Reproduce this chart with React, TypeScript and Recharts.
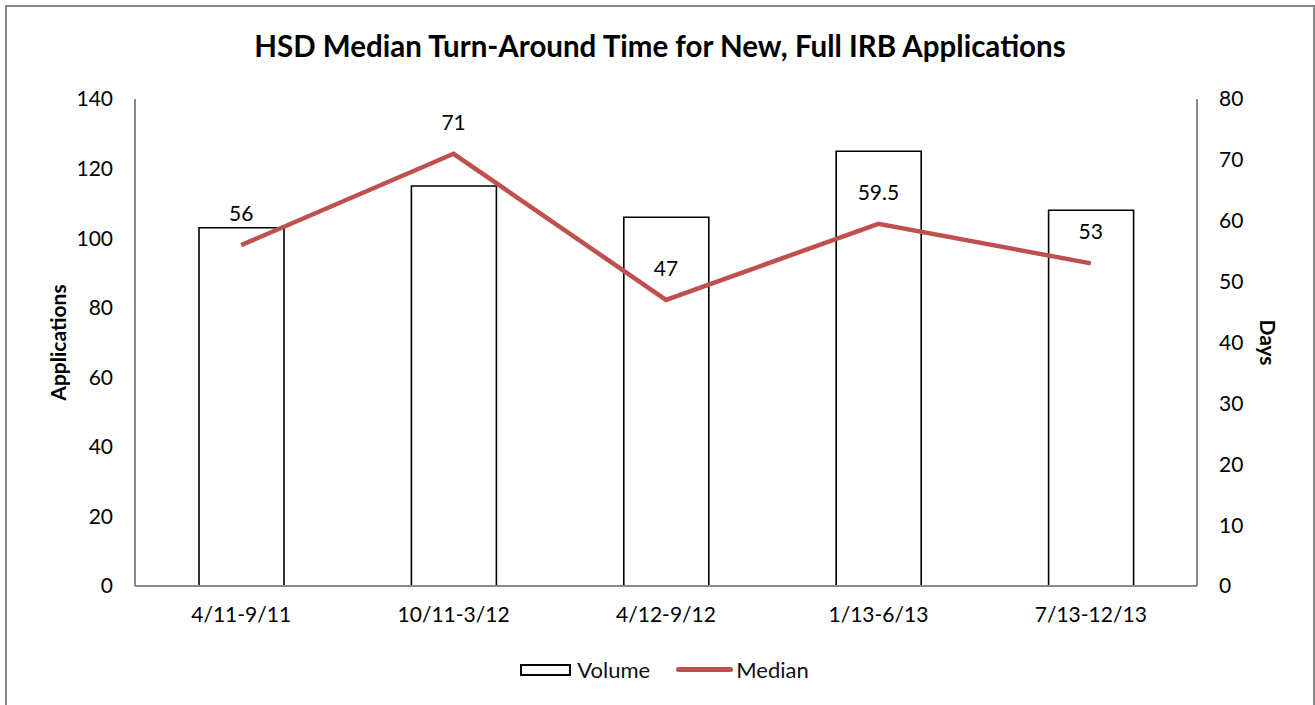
import React from 'react';
import { ComposedChart, Bar, Line, XAxis, YAxis, Legend, LabelList } from 'recharts';

const periods = ['4/11-9/11', '10/11-3/12', '4/12-9/12', '1/13-6/13', '7/13-12/13'];
const volume = [103, 115, 106, 125, 108];
const median = [56, 71, 47, 59.5, 53];
const appTicks = [0, 20, 40, 60, 80, 100, 120, 140];
const dayTicks = [0, 10, 20, 30, 40, 50, 60, 70, 80];

const data = periods.map((p, i) => ({ period: p, volume: volume[i], median: median[i] }));

const FONT = 'Lato, "Open Sans", sans-serif';
const AXIS_GRAY = '#898989';
const RED = '#c0504d';

const tickStyle = { fill: '#000', fontSize: 21, fontFamily: FONT };

const LegendContent = () => (
  <div style={{ display: 'flex', justifyContent: 'center', alignItems: 'center', fontFamily: FONT, fontSize: 22, color: '#111', paddingLeft: 14 }}>
    <span style={{ display: 'inline-block', width: 51, height: 12, border: '2px solid #000', boxSizing: 'border-box', marginRight: 6 }} />
    <span style={{ marginRight: 26 }}>Volume</span>
    <span style={{ display: 'inline-block', width: 57, height: 5, borderRadius: 3, background: RED, marginRight: 3 }} />
    <span>Median</span>
  </div>
);

const App: React.FC = () => {
  return (
    <div style={{ position: 'absolute', left: 0, top: 0, width: 1315, height: 705, background: '#fff' }}>
      <div
        style={{
          position: 'absolute', left: 5, top: 5, width: 1310, height: 710,
          border: '2px solid #868686', boxSizing: 'border-box'
        }}
      />
      <div
        style={{
          position: 'absolute', left: 0, top: 28, width: 1320, textAlign: 'center',
          fontFamily: FONT, fontWeight: 'bold', fontSize: 29.5, color: '#000'
        }}
      >
        HSD Median Turn-Around Time for New, Full IRB Applications
      </div>
      <div style={{ position: 'absolute', left: 0, top: 0 }}>
        <ComposedChart width={1315} height={705} data={data} margin={{ top: 99, right: 30, bottom: 30, left: 30 }}>
          <XAxis
            dataKey="period"
            stroke={AXIS_GRAY}
            strokeWidth={2}
            tickLine={false}
            tickSize={0}
            tickMargin={21}
            tick={tickStyle}
            height={62}
          />
          <YAxis
            yAxisId="left"
            domain={[0, 140]}
            ticks={appTicks}
            stroke={AXIS_GRAY}
            strokeWidth={2}
            tickLine={false}
            tickSize={0}
            tickMargin={22}
            tick={tickStyle}
            width={105}
            label={(props: any) => {
              const vb = props.viewBox;
              const x = vb.x + 27;
              const y = vb.y + vb.height / 2;
              return (
                <text x={x} y={y} transform={`rotate(-90 ${x} ${y})`} textAnchor="middle" dominantBaseline="central"
                  style={{ fontFamily: FONT, fontWeight: 'bold', fontSize: 21, fill: '#000' }}>
                  Applications
                </text>
              );
            }}
          />
          <YAxis
            yAxisId="right"
            orientation="right"
            domain={[0, 80]}
            ticks={dayTicks}
            stroke={AXIS_GRAY}
            strokeWidth={2}
            tickLine={false}
            tickSize={0}
            tickMargin={22}
            tick={tickStyle}
            width={88}
            label={(props: any) => {
              const vb = props.viewBox;
              const x = vb.x + 71;
              const y = vb.y + vb.height / 2;
              return (
                <text x={x} y={y} transform={`rotate(90 ${x} ${y})`} textAnchor="middle" dominantBaseline="central"
                  style={{ fontFamily: FONT, fontWeight: 'bold', fontSize: 21, fill: '#000' }}>
                  Days
                </text>
              );
            }}
          />
          <Legend verticalAlign="bottom" content={<LegendContent />} wrapperStyle={{ bottom: 22 }} />
          <Bar yAxisId="left" dataKey="volume" name="Volume" fill="#fff" stroke="#000" strokeWidth={1.6} barSize={85} isAnimationActive={false} />
          <Line
            yAxisId="right"
            dataKey="median"
            name="Median"
            type="linear"
            stroke={RED}
            strokeWidth={4.5}
            dot={false}
            activeDot={false}
            isAnimationActive={false}
          >
            <LabelList dataKey="median" position="top" offset={24} style={{ fill: '#000', fontSize: 21, fontFamily: FONT }} />
          </Line>
        </ComposedChart>
      </div>
    </div>
  );
};

export default App;
